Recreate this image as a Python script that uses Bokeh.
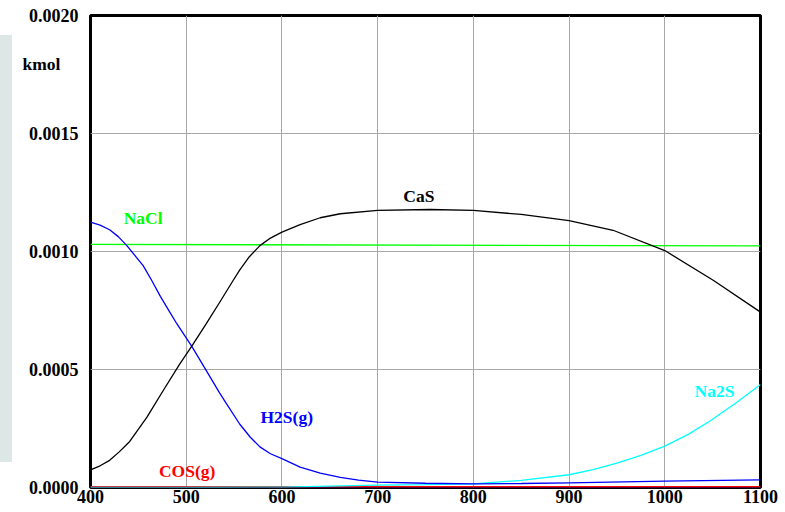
from bokeh.plotting import figure
from bokeh.models import (PrintfTickFormatter, FixedTicker, LinearAxis, Label,
                          CustomJSTickFormatter, Div)
from bokeh.layouts import row
from bokeh.embed import file_html
from bokeh.resources import INLINE

# Temperature (x) and amount in kmol (y) for each species
t_cas = [400, 410, 420, 430, 441, 459, 476, 493, 506, 521, 535, 549, 556, 566, 577, 588, 600, 619,
         640, 661, 700, 755, 800, 850, 900, 946, 1000, 1051, 1100]
cas = [0.000075, 0.000092, 0.000115, 0.000151, 0.000195, 0.000298, 0.000411, 0.000522, 0.0006,
       0.000694, 0.000785, 0.000877, 0.000922, 0.000978, 0.001025, 0.001057, 0.001082, 0.001114,
       0.001143, 0.00116, 0.001174, 0.001178, 0.001174, 0.001157, 0.001131, 0.00109, 0.001004,
       0.000877, 0.000743]

t_h2s = [400, 410, 420, 429, 438, 455, 464, 473, 483, 490, 506, 521, 535, 542, 556, 567, 577, 588,
         600, 619, 640, 661, 680, 700, 750, 800, 850, 900, 1000, 1100]
h2s = [0.001124, 0.001112, 0.001092, 0.001063, 0.001025, 0.00094, 0.000877, 0.00081, 0.000742,
       0.000695, 0.000597, 0.000495, 0.0004, 0.000355, 0.000268, 0.000213, 0.000172, 0.000143,
       0.000122, 0.000086, 0.000061, 0.000043, 0.000031, 0.0000225, 0.000018, 0.0000157,
       0.000017, 0.00002, 0.0000267, 0.0000326]

t_na2s = [400, 500, 600, 700, 750, 800, 850, 900, 925, 950, 975, 1000, 1025, 1048, 1075, 1100]
na2s = [0.0, 0.0, 0.000002, 0.00001, 0.000012, 0.0000157, 0.00003, 0.000054, 0.000076, 0.000103,
        0.000136, 0.000175, 0.000226, 0.000284, 0.00036, 0.000436]

t_nacl = [400, 1100]
nacl = [0.00103, 0.001024]

t_cos = [400, 1100]
cos_g = [0.000004, 0.000004]

t_other = [400, 1100]
other = [0.000001, 0.000001]

x_ticks = [400, 500, 600, 700, 800, 900, 1000, 1100]
y_ticks = [0.0, 0.0005, 0.0010, 0.0015, 0.0020]
unit_tick = [0.001795]

FONT = "Liberation Serif"

p = figure(width=770, height=509, x_range=(400, 1100), y_range=(0, 0.002),
           output_backend="svg", toolbar_location=None,
           min_border_left=78, min_border_top=15, min_border_right=22, min_border_bottom=22)

p.outline_line_color = "black"
p.outline_line_width = 3
p.background_fill_color = "white"
p.border_fill_color = "white"


def style_axis(ax):
    ax.axis_line_color = None
    ax.major_tick_line_color = None
    ax.minor_tick_line_color = None
    ax.major_tick_out = 0
    ax.major_tick_in = 0
    ax.minor_tick_out = 0
    ax.minor_tick_in = 0
    ax.major_label_text_font = FONT
    ax.major_label_text_font_style = "bold"
    ax.major_label_text_font_size = "18px"
    ax.major_label_text_color = "black"


style_axis(p.xaxis[0])
style_axis(p.yaxis[0])
p.xaxis[0].ticker = FixedTicker(ticks=x_ticks)
p.yaxis[0].ticker = FixedTicker(ticks=y_ticks)
p.yaxis[0].formatter = PrintfTickFormatter(format="%.4f")
p.yaxis[0].major_label_standoff = 12
p.xaxis[0].major_label_standoff = 2

# unit caption "kmol" as an outer left axis label
unit_axis = LinearAxis(ticker=FixedTicker(ticks=unit_tick),
                       formatter=CustomJSTickFormatter(code="return 'kmol';"))
style_axis(unit_axis)
unit_axis.major_label_text_font_size = "17.5px"
unit_axis.major_label_standoff = -35
p.add_layout(unit_axis, "left")

p.xgrid.ticker = FixedTicker(ticks=x_ticks)
p.ygrid.ticker = FixedTicker(ticks=y_ticks)
p.xgrid.grid_line_color = "#a8a8a8"
p.ygrid.grid_line_color = "#a8a8a8"
p.xgrid.grid_line_width = 1
p.ygrid.grid_line_width = 1

p.line(t_other, other, line_color="#800080", line_width=2)
p.line(t_cos, cos_g, line_color="#ff0000", line_width=1.3)
p.line(t_nacl, nacl, line_color="#00ff00", line_width=1.3)
p.line(t_na2s, na2s, line_color="#00ffff", line_width=1.3)
p.line(t_h2s, h2s, line_color="#0000ff", line_width=1.3)
p.line(t_cas, cas, line_color="#000000", line_width=1.3)

labels = [
    ("CaS", 743, 0.001237, "#000000"),
    ("NaCl", 455, 0.00114, "#00ff00"),
    ("H2S(g)", 605, 0.000297, "#0000ff"),
    ("Na2S", 1052, 0.000411, "#00ffff"),
    ("COS(g)", 501, 0.0000678, "#ff0000"),
]
for txt, lx, ly, col in labels:
    p.add_layout(Label(x=lx, y=ly, text=txt, text_color=col, text_font=FONT,
                       text_font_style="bold", text_font_size="17.5px",
                       text_align="center", text_baseline="middle"))

panel = Div(text="", width=12, height=427, margin=(35, 0, 0, 0),
            styles={"background-color": "#dde7e5"})

layout = row(panel, p, spacing=0)

open("out.html", "w").write(file_html(layout, INLINE))
